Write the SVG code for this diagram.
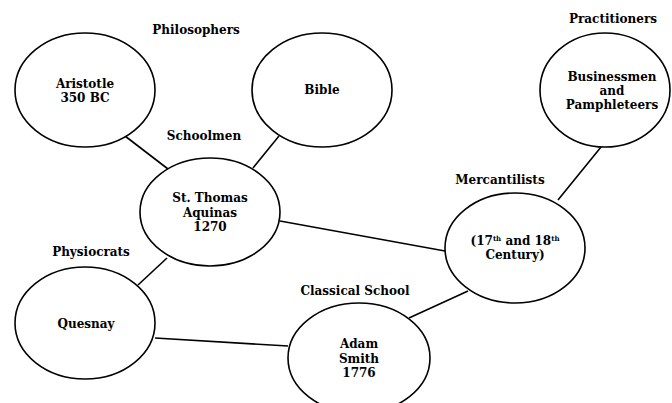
<svg xmlns="http://www.w3.org/2000/svg" width="672" height="403" viewBox="0 0 672 403">
<style>
.n{fill:#fff;stroke:#000;stroke-width:1.6}
.c line{stroke:#000;stroke-width:1.6}
text{font-family:"DejaVu Serif","Liberation Serif",serif;font-weight:bold;font-size:12px;text-anchor:middle;fill:#000}
.sup{font-size:7px}
</style>
<rect width="672" height="403" fill="#fff"/>
<g class="c" id="connectors">
<line x1="125" y1="136" x2="168" y2="169"/>
<line x1="279" y1="136" x2="253" y2="168"/>
<line x1="280" y1="221" x2="445" y2="251"/>
<line x1="167" y1="258" x2="138" y2="285"/>
<line x1="155" y1="338" x2="288" y2="346"/>
<line x1="409" y1="318" x2="468" y2="291"/>
<line x1="601" y1="147" x2="558" y2="200"/>
</g>
<text x="196" y="34">Philosophers</text>
<text x="204" y="140">Schoolmen</text>
<text x="613" y="23">Practitioners</text>
<text x="500" y="184">Mercantilists</text>
<text x="91" y="256">Physiocrats</text>
<text x="355" y="295">Classical School</text>
<g id="aristotle">
<ellipse class="n" cx="85" cy="90" rx="70" ry="57"/>
<text x="85" y="88">Aristotle</text>
<text x="85" y="102">350 BC</text>
</g>
<g id="bible">
<ellipse class="n" cx="322" cy="90" rx="70" ry="57"/>
<text x="322" y="94">Bible</text>
</g>
<g id="practitioners">
<ellipse class="n" cx="605" cy="90" rx="65" ry="57"/>
<text x="612" y="81">Businessmen</text>
<text x="612" y="95">and</text>
<text x="612" y="109">Pamphleteers</text>
</g>
<g id="aquinas">
<ellipse class="n" cx="210" cy="212" rx="70" ry="54"/>
<text x="210" y="202">St. Thomas</text>
<text x="210" y="217">Aquinas</text>
<text x="210" y="231">1270</text>
</g>
<g id="quesnay">
<ellipse class="n" cx="85" cy="323" rx="70" ry="56"/>
<text x="86" y="328">Quesnay</text>
</g>
<g id="mercantilists">
<ellipse class="n" cx="515" cy="248" rx="70" ry="55"/>
<text x="515" y="245">(17<tspan class="sup" dy="-4">th</tspan><tspan dy="4"> and 18</tspan><tspan class="sup" dy="-4">th</tspan></text>
<text x="515" y="259">Century)</text>
</g>
<g id="smith">
<ellipse class="n" cx="359" cy="358" rx="71" ry="55"/>
<text x="359" y="348">Adam</text>
<text x="359" y="363">Smith</text>
<text x="359" y="377">1776</text>
</g>
</svg>
